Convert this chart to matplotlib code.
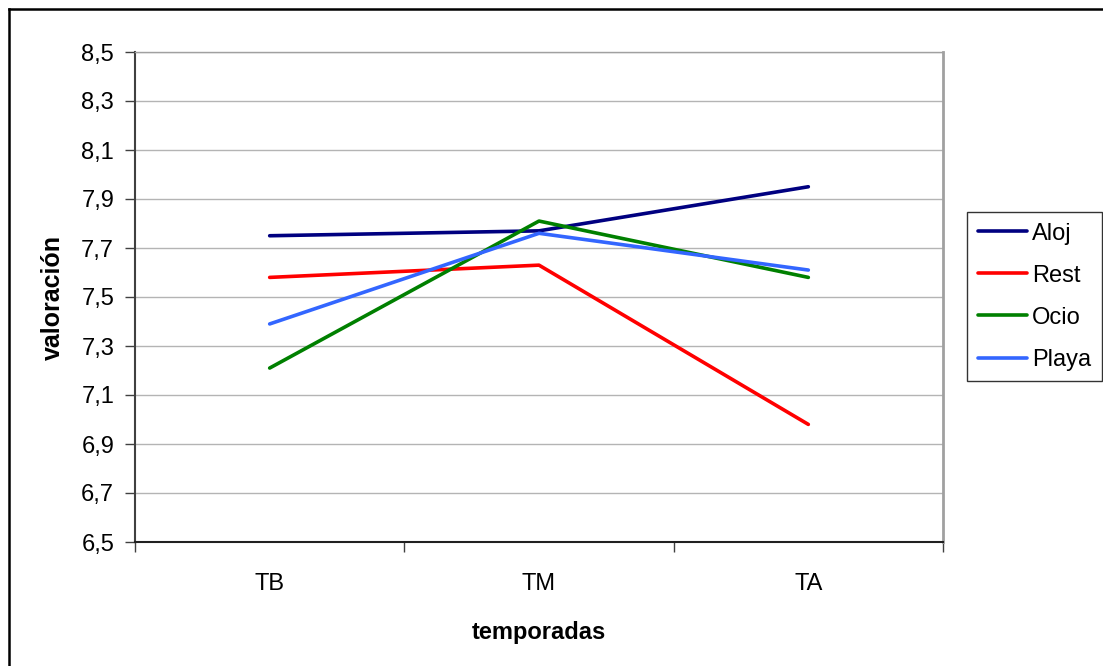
import matplotlib
matplotlib.use("Agg")
import matplotlib.pyplot as plt
from matplotlib.lines import Line2D
from matplotlib.ticker import FuncFormatter, FixedLocator

plt.rcParams['font.family'] = ['Liberation Sans', 'DejaVu Sans']

temporadas = ["TB", "TM", "TA"]
aloj = [7.75, 7.77, 7.95]
rest = [7.58, 7.63, 6.98]
ocio = [7.21, 7.81, 7.58]
playa = [7.39, 7.76, 7.61]

series = [("Aloj", aloj, "#000080"),
          ("Rest", rest, "#FF0000"),
          ("Ocio", ocio, "#008000"),
          ("Playa", playa, "#3366FF")]

W, H = 1103, 666
fig = plt.figure(figsize=(W / 100, H / 100), dpi=100)
ax = fig.add_axes([135 / W, 1 - 542 / H, (943 - 135) / W, (542 - 52) / H])

x = list(range(len(temporadas)))
for name, vals, col in series:
    ax.plot(x, vals, color=col, lw=2.6, label=name, solid_capstyle="round", zorder=3)

ax.set_xlim(-0.5, len(temporadas) - 0.5)
ax.set_ylim(6.5, 8.5)
ax.set_yticks([6.5 + 0.2 * i for i in range(11)])
ax.yaxis.set_major_formatter(FuncFormatter(lambda v, p: f"{v:.1f}".replace(".", ",")))
ax.yaxis.grid(True, color="#b4b4b4", lw=1.0)
ax.set_axisbelow(True)

# category labels in the middle, tick marks on the boundaries
ax.xaxis.set_major_locator(FixedLocator([-0.5, 0.5, 1.5, 2.5]))
ax.set_xticklabels([])
ax.xaxis.set_minor_locator(FixedLocator(x))
ax.set_xticklabels(temporadas, minor=True)
ax.tick_params(axis="x", which="minor", length=0, pad=22, labelsize=17)
ax.tick_params(axis="x", which="major", length=7, width=1, color="#404040", direction="out")
ax.tick_params(axis="y", length=7, width=1, color="#404040", direction="out", pad=8, labelsize=17)

ax.spines["left"].set_color("#404040")
ax.spines["left"].set_linewidth(1.5)
ax.spines["bottom"].set_color("#202020")
ax.spines["bottom"].set_linewidth(1.5)
ax.spines["top"].set_color("#a0a0a0")
ax.spines["top"].set_linewidth(1.0)
ax.spines["right"].set_color("#a0a0a0")
ax.spines["right"].set_linewidth(2.0)

ax.set_xlabel("temporadas", fontsize=17, fontweight="bold", labelpad=19)
ax.set_ylabel("valoración", fontsize=18, fontweight="bold", labelpad=12)

leg = fig.legend(loc="upper left", bbox_to_anchor=(967 / W, 1 - 212 / H),
                 fontsize=17, frameon=True, fancybox=False, edgecolor="black",
                 handlelength=2.1, handletextpad=0.2, labelspacing=0.85,
                 borderpad=0.45, borderaxespad=0)
leg.get_frame().set_linewidth(1.0)

# outer chart border (left and top only visible)
fig.add_artist(Line2D([9 / W, 9 / W], [0, 1 - 9 / H], transform=fig.transFigure, color="black", lw=1.8))
fig.add_artist(Line2D([9 / W, 1], [1 - 9 / H, 1 - 9 / H], transform=fig.transFigure, color="black", lw=1.8))

fig.savefig("out.png", dpi=100)
